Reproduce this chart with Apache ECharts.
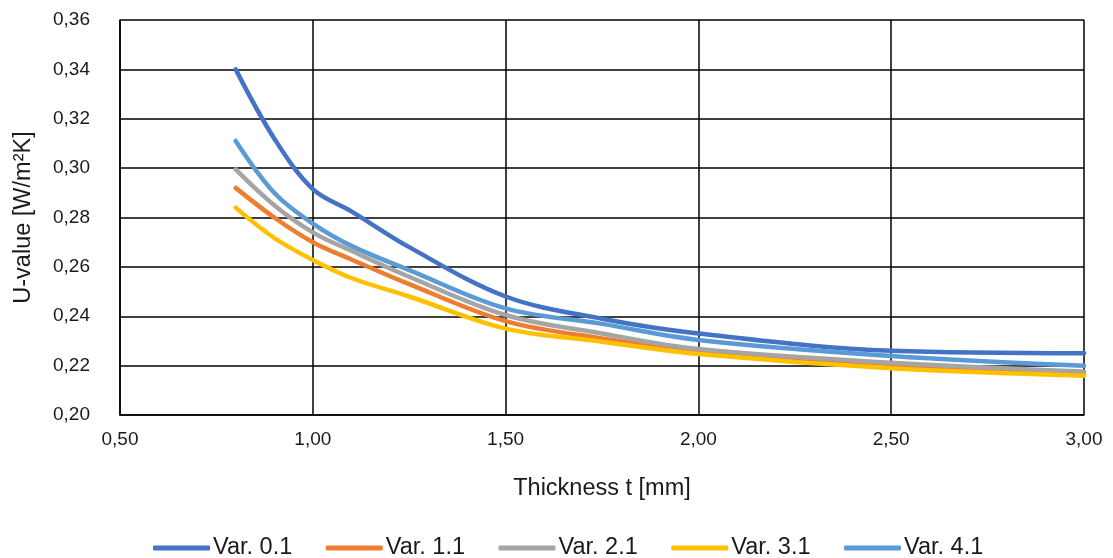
<!DOCTYPE html>
<html>
<head>
<meta charset="utf-8">
<script src="https://cdn.jsdelivr.net/npm/echarts@6/dist/echarts.min.js"></script>
<style>
  html, body { margin: 0; padding: 0; background: #fff; }
</style>
</head>
<body>
<div id="chart" style="width: 1113px; height: 558px"></div>
<script>
// thickness t [mm]
const thickness = [0.8, 0.9, 1.0, 1.1, 1.25, 1.5, 1.75, 2.0, 2.5, 3.0]
// U-value per variant
const var01 = [0.340, 0.312, 0.2915, 0.2825, 0.268, 0.248, 0.239, 0.233, 0.226, 0.225]
const var11 = [0.292, 0.280, 0.270, 0.263, 0.253, 0.238, 0.231, 0.2257, 0.2195, 0.2165]
const var21 = [0.2995, 0.285, 0.274, 0.2665, 0.256, 0.2405, 0.233, 0.2267, 0.2212, 0.2176]
const var31 = [0.284, 0.2717, 0.2628, 0.2555, 0.248, 0.235, 0.2297, 0.2247, 0.2189, 0.2159]
const var41 = [0.311, 0.290, 0.2775, 0.2685, 0.2587, 0.2432, 0.2369, 0.2304, 0.2239, 0.2199]
const seriesNames = ['Var. 0.1', 'Var. 1.1', 'Var. 2.1', 'Var. 3.1', 'Var. 4.1']
const colors = ['#4472C4', '#ED7D31', '#A5A5A5', '#FFC000', '#5B9BD5']

const font = 'Liberation Sans, Arial, sans-serif'
const textColor = '#1a1a1a'
const comma = (v) => v.toFixed(2).replace('.', ',')

const chart = echarts.init(document.getElementById('chart'))

function makeSeries(name, values, color) {
  return {
    name,
    type: 'line',
    smooth: 0.35,
    symbol: 'none',
    data: values.map((v, i) => [thickness[i], v]),
    lineStyle: { width: 4.5, color, cap: 'round' },
    itemStyle: { color }
  }
}

const option = {
  animation: false,
  color: colors,
  grid: { left: 120, right: 29, top: 20, bottom: 143 },
  legend: {
    top: 531,
    left: 148,
    icon: 'roundRect',
    itemWidth: 57,
    itemHeight: 5,
    itemGap: 33.5,
    textStyle: { fontFamily: font, fontSize: 23.5, color: textColor, padding: [0, 0, 0, -2] },
    data: seriesNames
  },
  xAxis: {
    type: 'value',
    min: 0.5,
    max: 3,
    interval: 0.5,
    name: 'Thickness t [mm]',
    nameLocation: 'middle',
    nameGap: 62,
    nameTextStyle: { fontFamily: font, fontSize: 23.5, color: textColor },
    axisLine: { show: true, lineStyle: { color: '#000', width: 1.5 } },
    axisTick: { show: false },
    axisLabel: { fontFamily: font, fontSize: 19, color: textColor, margin: 15, formatter: comma },
    splitLine: { show: true, lineStyle: { color: '#000', width: 1.5 } }
  },
  yAxis: {
    type: 'value',
    min: 0.2,
    max: 0.36,
    interval: 0.02,
    name: 'U-value [W/m²K]',
    nameLocation: 'middle',
    nameGap: 84,
    nameTextStyle: { fontFamily: font, fontSize: 23.5, color: textColor },
    axisLine: { show: true, lineStyle: { color: '#000', width: 1.5 } },
    axisTick: { show: false },
    axisLabel: { fontFamily: font, fontSize: 19, color: textColor, margin: 30, formatter: comma },
    splitLine: { show: true, lineStyle: { color: '#000', width: 1.5 } }
  },
  series: [
    makeSeries(seriesNames[0], var01, colors[0]),
    makeSeries(seriesNames[1], var11, colors[1]),
    makeSeries(seriesNames[2], var21, colors[2]),
    makeSeries(seriesNames[3], var31, colors[3]),
    makeSeries(seriesNames[4], var41, colors[4])
  ]
}

chart.setOption(option)
</script>
</body>
</html>
